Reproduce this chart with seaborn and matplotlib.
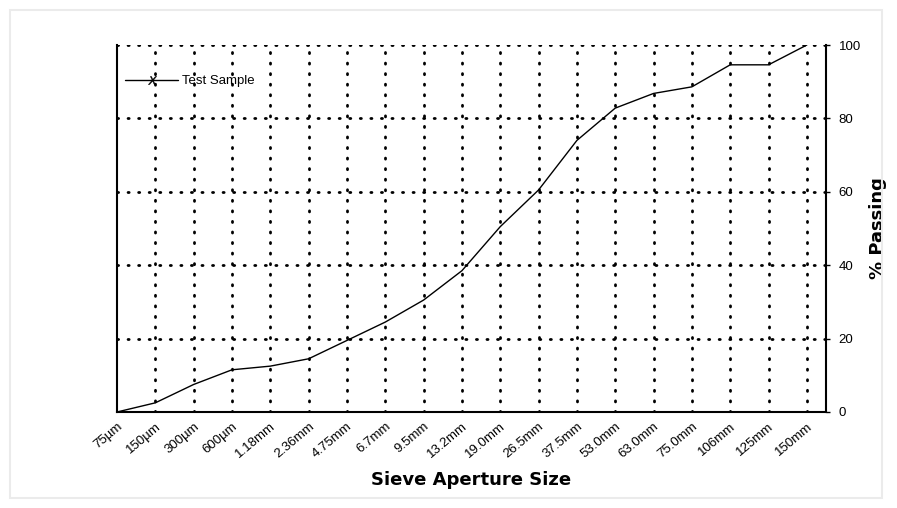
import matplotlib
matplotlib.use("Agg")
import matplotlib.pyplot as plt
from matplotlib.lines import Line2D
from matplotlib.patches import Rectangle
import numpy as np
import pandas as pd
import seaborn as sns

sieves = ["75µm", "150µm", "300µm", "600µm", "1.18mm", "2.36mm", "4.75mm", "6.7mm",
          "9.5mm", "13.2mm", "19.0mm", "26.5mm", "37.5mm", "53.0mm", "63.0mm",
          "75.0mm", "106mm", "125mm", "150mm"]
passing = [0, 2.5, 7.5, 11.5, 12.5, 14.5, 19.5, 24.5, 30.5, 38.5, 50.5, 60.5,
           74, 82.8, 86.8, 88.6, 94.6, 94.6, 100]
y_ticks = [0, 20, 40, 60, 80, 100]

df = pd.DataFrame({"pos": np.arange(len(sieves)), "passing": passing})

sns.set_theme(style="white")
plt.rcParams["font.family"] = ["Liberation Sans", "DejaVu Sans"]
plt.rcParams["text.color"] = "black"
plt.rcParams["axes.labelcolor"] = "black"
plt.rcParams["xtick.color"] = "black"
plt.rcParams["ytick.color"] = "black"

fig = plt.figure(figsize=(8.97, 5.08), dpi=100)
# faint outer frame like the scanned reference
fig.patches.append(Rectangle((10 / 897, 10 / 508), 872 / 897, 488 / 508,
                             transform=fig.transFigure, fill=False,
                             edgecolor="#ebebeb", linewidth=1.5))
ax = fig.add_axes([117 / 897, 96 / 508, 709 / 897, 367 / 508])

sns.lineplot(data=df, x="pos", y="passing", color="black", linewidth=1.0, ax=ax,
             legend=False)

ax.set_xlim(0, len(sieves) - 0.5)
ax.set_ylim(0, 100)

dot = (0, (0.4, 3.4))
for i in range(1, len(sieves)):
    ax.axvline(i, color="black", linewidth=2.0, linestyle=dot,
               dash_capstyle="round", zorder=1)
for v in y_ticks[1:]:
    ax.axhline(v, color="black", linewidth=2.0, linestyle=dot,
               dash_capstyle="round", zorder=1)

ax.set_xticks(range(len(sieves)))
ax.set_xticklabels(sieves, rotation=40, ha="right", rotation_mode="anchor",
                   fontsize=9.5)
ax.tick_params(axis="x", length=0, pad=6)

ax.yaxis.tick_right()
ax.yaxis.set_label_position("right")
ax.set_yticks(y_ticks)
ax.set_yticklabels([str(v) for v in y_ticks], fontsize=9.5)
ax.tick_params(axis="y", right=True, length=3, width=1, color="black", pad=6)

for side in ["left", "right", "bottom"]:
    ax.spines[side].set_visible(True)
    ax.spines[side].set_color("black")
    ax.spines[side].set_linewidth(1.5)
ax.spines["top"].set_visible(False)

ax.set_xlabel("Sieve Aperture Size", fontsize=13, fontweight="bold",
              family=["DejaVu Sans"], labelpad=8)
ax.set_ylabel("% Passing", fontsize=13, fontweight="bold",
              family=["DejaVu Sans"], labelpad=6)

handle = Line2D([], [], color="black", linewidth=1.0, marker="$X$",
                markersize=6, markeredgewidth=0.3)
ax.legend([handle], ["Test Sample"], loc="upper left", frameon=False,
          fontsize=9.5, handlelength=4.0, handletextpad=0.3,
          bbox_to_anchor=(-0.005, 0.95))

ax.grid(False)
fig.savefig("out.png", dpi=100, facecolor="white")
